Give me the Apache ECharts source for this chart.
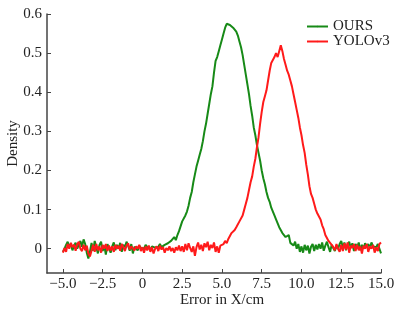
<!DOCTYPE html>
<html>
<head>
<meta charset="utf-8">
<script src="https://cdn.jsdelivr.net/npm/echarts@6/dist/echarts.min.js"></script>
<style>
html,body{margin:0;padding:0;background:#fff;}
#chart{width:408px;height:309px;}
</style>
</head>
<body>
<div id="chart"></div>
<script>
// x grid: -5.0 .. 15.0, step 0.1
const xStart = -5.0;
const xStep = 0.1;
const xTicks = [-5, -2.5, 0, 2.5, 5, 7.5, 10, 12.5, 15];
const yTicks = [0, 0.1, 0.2, 0.3, 0.4, 0.5, 0.6];

// OURS (green)
const ours = [
  -0.008, 0.0, 0.01, 0.018, 0.005, 0.012, -0.004, 0.008, 0.015, 0.0,
  0.01, 0.02, 0.005, 0.024, 0.012, -0.01, -0.025, -0.008, 0.015, -0.005,
  0.02, 0.004, -0.012, 0.01, 0.018, -0.006, 0.008, -0.015, 0.012, 0.002,
  -0.01, 0.006, 0.016, -0.004, 0.01, 0.0, 0.015, -0.008, 0.01, 0.004,
  0.018, 0.008, -0.005, 0.012, -0.012, 0.005, 0.01, -0.004, 0.008, 0.002,
  0.006, 0.0, 0.01, 0.004, 0.008, -0.002, 0.006, 0.01, 0.003, 0.008,
  0.005, 0.012, 0.004, 0.006, 0.01, 0.008, 0.014, 0.012, 0.02, 0.018,
  0.03, 0.022, 0.035, 0.045, 0.05, 0.07, 0.075, 0.085, 0.095, 0.11,
  0.13, 0.145, 0.17, 0.19, 0.21, 0.225, 0.24, 0.255, 0.275, 0.3,
  0.32, 0.345, 0.37, 0.395, 0.415, 0.45, 0.48, 0.49, 0.505, 0.52,
  0.535, 0.55, 0.565, 0.575, 0.578, 0.572, 0.576, 0.565, 0.57, 0.555,
  0.545, 0.53, 0.515, 0.495, 0.47, 0.445, 0.42, 0.395, 0.365, 0.34,
  0.31, 0.29, 0.265, 0.245, 0.225, 0.2, 0.18, 0.165, 0.145, 0.13,
  0.12, 0.105, 0.1, 0.085, 0.075, 0.07, 0.055, 0.05, 0.04, 0.045,
  0.03, 0.025, 0.035, 0.015, 0.02, 0.008, 0.018, 0.0, 0.012, -0.008,
  0.006, -0.01, 0.01, -0.004, 0.008, -0.012, 0.005, 0.012, -0.006, 0.01,
  -0.002, 0.012, 0.0, 0.016, -0.005, 0.008, 0.018, 0.004, -0.008, 0.01,
  0.002, -0.006, 0.008, 0.0, 0.012, 0.02, 0.004, 0.016, -0.004, 0.01,
  0.018, 0.002, 0.014, -0.006, 0.012, 0.004, 0.016, -0.004, 0.01, 0.0,
  0.014, 0.006, 0.012, 0.002, 0.016, 0.006, 0.01, 0.004, 0.012, 0.008,
  -0.012
];

// YOLOv3 (red)
const yolo = [
  -0.01, 0.002, -0.008, 0.012, 0.0, 0.015, 0.004, 0.01, -0.005, 0.012,
  0.018, 0.0, -0.006, 0.01, -0.004, 0.008, -0.012, -0.02, -0.005, 0.01,
  -0.008, 0.012, -0.004, 0.006, -0.01, 0.01, 0.0, 0.012, -0.006, 0.008,
  -0.004, 0.006, -0.008, 0.01, 0.0, 0.008, -0.005, 0.012, 0.004, -0.006,
  0.008, 0.014, -0.002, 0.006, 0.01, -0.004, 0.006, 0.0, 0.01, -0.006,
  0.004, -0.01, 0.006, -0.004, 0.008, -0.008, 0.004, -0.012, 0.0, 0.006,
  -0.006, 0.008, -0.002, 0.004, -0.01, 0.002, -0.004, 0.006, -0.006, 0.002,
  -0.01, 0.004, -0.004, 0.008, -0.006, 0.006, -0.008, 0.012, -0.004, 0.014,
  0.002, -0.008, 0.006, -0.018, 0.004, 0.016, -0.002, 0.01, -0.006, 0.014,
  0.004, 0.018, -0.004, 0.01, 0.002, 0.016, -0.008, 0.006, -0.01, 0.008,
  0.004, 0.012, 0.02, 0.014, 0.025, 0.03, 0.04, 0.035, 0.048, 0.055,
  0.06, 0.07, 0.075, 0.085, 0.1, 0.115, 0.13, 0.15, 0.17, 0.185,
  0.21, 0.23, 0.26, 0.285, 0.32, 0.35, 0.375, 0.39, 0.405, 0.43,
  0.455, 0.475, 0.48, 0.49, 0.5, 0.49, 0.505, 0.52, 0.505, 0.485,
  0.47, 0.455, 0.445, 0.43, 0.415, 0.395, 0.375, 0.355, 0.335, 0.31,
  0.29, 0.265, 0.245, 0.215, 0.19, 0.16, 0.14, 0.13, 0.115, 0.1,
  0.09, 0.085, 0.075, 0.06, 0.05, 0.035, 0.03, 0.02, 0.018, 0.01,
  0.004, -0.004, 0.012, 0.0, -0.008, 0.01, -0.006, 0.014, -0.002, 0.016,
  -0.01, 0.008, 0.002, 0.012, -0.006, 0.01, -0.004, 0.006, -0.012, 0.008,
  0.0, 0.012, -0.008, 0.006, 0.0, 0.01, -0.01, 0.004, -0.006, 0.012,
  0.016
];

const toPairs = arr => arr.map((v, i) => [+(xStart + i * xStep).toFixed(1), v]);

const fontFamily = '"Liberation Serif", "DejaVu Serif", serif';
const fmtX = v => v === 0 ? '0' : (v < 0 ? '\u2212' + Math.abs(v).toFixed(1) : v.toFixed(1));
const fmtY = v => v === 0 ? '0' : v.toFixed(1);

const chart = echarts.init(document.getElementById('chart'));
chart.setOption({
  animation: false,
  backgroundColor: '#fff',
  grid: {left: 47, right: 27, top: 14, bottom: 36, outerBoundsMode: 'none', containLabel: false},
  legend: {
    orient: 'vertical',
    left: 301,
    top: 14,
    itemWidth: 21,
    itemHeight: 2,
    itemGap: 0,
    textStyle: {fontFamily: fontFamily, fontSize: 15, color: '#222', lineHeight: 15},
    data: ['OURS', 'YOLOv3']
  },
  xAxis: {
    type: 'value',
    min: -6,
    max: 15,
    name: 'Error in X/cm',
    nameLocation: 'middle',
    nameGap: 20,
    nameMoveOverlap: false,
    nameTextStyle: {fontFamily: fontFamily, fontSize: 15, color: '#222', padding: [0, 0, 0, 16]},
    axisLine: {onZero: false, lineStyle: {color: '#444', width: 1.5}},
    axisTick: {inside: true, length: 4, customValues: xTicks, lineStyle: {color: '#444'}},
    axisLabel: {customValues: xTicks, formatter: fmtX, fontFamily: fontFamily, fontSize: 15, color: '#222', margin: 4},
    splitLine: {show: false}
  },
  yAxis: {
    type: 'value',
    min: -0.062,
    max: 0.6,
    name: 'Density',
    nameLocation: 'middle',
    nameGap: 26,
    nameMoveOverlap: false,
    nameTextStyle: {fontFamily: fontFamily, fontSize: 15, color: '#222'},
    axisLine: {show: true, onZero: false, lineStyle: {color: '#444', width: 1.5}},
    axisTick: {show: true, inside: true, length: 4, customValues: yTicks, lineStyle: {color: '#444'}},
    axisLabel: {customValues: yTicks, formatter: fmtY, fontFamily: fontFamily, fontSize: 15, color: '#222', margin: 5},
    splitLine: {show: false}
  },
  series: [
    {
      name: 'OURS',
      type: 'line',
      data: toPairs(ours),
      symbol: 'none',
      lineStyle: {color: '#178a17', width: 2},
      itemStyle: {color: '#178a17'},
      z: 2
    },
    {
      name: 'YOLOv3',
      type: 'line',
      data: toPairs(yolo),
      symbol: 'none',
      lineStyle: {color: '#ff1a1a', width: 2},
      itemStyle: {color: '#ff1a1a'},
      z: 3
    }
  ]
});
</script>
</body>
</html>
